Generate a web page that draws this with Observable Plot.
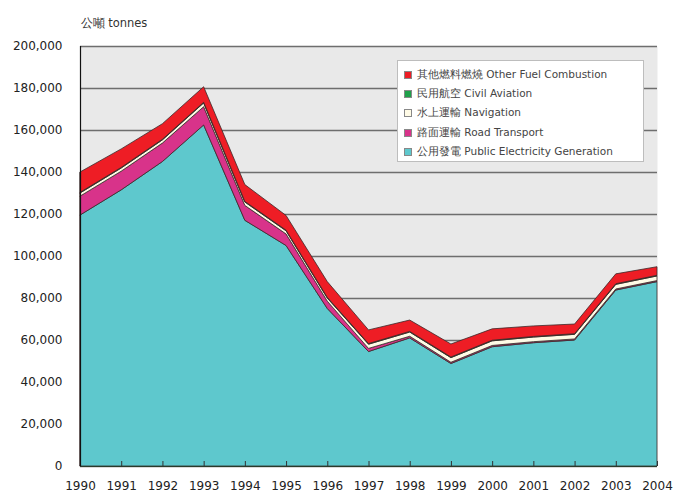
<!DOCTYPE html>
<html>
<head>
<meta charset="utf-8">
<script src="https://cdn.jsdelivr.net/npm/d3@7"></script>
<script src="https://cdn.jsdelivr.net/npm/@observablehq/plot@0.6"></script>
<style>
  body { margin: 0; background: #fff; font-family: "DejaVu Sans", sans-serif; }
  #wrap { position: relative; width: 673px; height: 494px; overflow: hidden; }
  #legend { position: absolute; left: 397px; top: 60px; width: 247px; height: 102px;
    background: #fff; border: 1px solid #bdbdbd; box-sizing: border-box; padding: 4px 0 0 6px;
    font-size: 10.5px; color: #444; }
  #legend .item { display: flex; align-items: center; height: 19.4px; white-space: nowrap; }
  #legend .sw { width: 8px; height: 8px; margin-right: 5px; border: 1px solid #888; box-sizing: border-box; }
</style>
</head>
<body>
<div id="wrap"><div id="chart"></div><div id="legend"></div></div>
<script>
const years = [1990, 1991, 1992, 1993, 1994, 1995, 1996, 1997, 1998, 1999, 2000, 2001, 2002, 2003, 2004];
const publicElectricity = [119500, 131500, 145000, 162400, 117000, 105000, 75000, 54500, 61000, 48800, 56800, 58700, 60000, 83800, 87800];
const roadTransport = [9000, 8900, 8800, 8700, 7100, 5500, 3500, 1500, 800, 600, 600, 500, 500, 500, 500];
const navigation = [1500, 1500, 1500, 1800, 1600, 1500, 1500, 2000, 2000, 2200, 2200, 2200, 2200, 2200, 2200];
const civilAviation = [300, 300, 300, 300, 300, 300, 300, 300, 300, 300, 300, 300, 300, 300, 300];
const otherFuel = [9700, 8800, 7400, 7400, 8000, 7000, 7500, 6500, 5400, 6200, 5400, 5000, 4600, 4700, 4100];

const categories = ["公用發電 Public Electricity Generation", "路面運輸 Road Transport", "水上運輸 Navigation", "民用航空 Civil Aviation", "其他燃料燃燒 Other Fuel Combustion"];
const colors = ["#5ec8cd", "#d8338a", "#fffbe6", "#1fa04a", "#ee1d25"];
const yTicks = [0, 20000, 40000, 60000, 80000, 100000, 120000, 140000, 160000, 180000, 200000];
const unitLabel = "公噸 tonnes";

const series = [publicElectricity, roadTransport, navigation, civilAviation, otherFuel];
const data = [];
series.forEach((vals, i) => vals.forEach((v, j) => data.push({year: years[j], category: categories[i], value: v})));

const chart = Plot.plot({
  width: 673,
  height: 494,
  marginLeft: 80,
  marginRight: 16,
  marginTop: 46,
  marginBottom: 28,
  style: {fontFamily: "DejaVu Sans, sans-serif", fontSize: "12px", color: "#222", background: "#fff"},
  x: {domain: [1990, 2004], ticks: years, tickFormat: d => String(d)},
  y: {domain: [0, 200000], ticks: yTicks},
  color: {domain: categories, range: colors},
  marks: [
    Plot.frame({fill: "#e9e9e9", stroke: null}),
    Plot.gridY(yTicks, {stroke: "#6e6e6e", strokeOpacity: 1, strokeWidth: 1.6}),
    Plot.areaY(data, {x: "year", y: "value", z: "category", fill: "category", order: categories,
      stroke: "#3a2a2a", strokeWidth: 0.8, strokeLinejoin: "round"}),
    Plot.axisY({ticks: yTicks, tickSize: 0, tickPadding: 18, tickFormat: d3.format(","), label: null}),
    Plot.axisX({ticks: years, tickSize: 0, tickPadding: 15, tickFormat: d => String(d), label: null}),
    Plot.axisX({ticks: years, tickSize: 5, dy: -5, text: null, label: null, stroke: "#333", strokeWidth: 1}),
    Plot.ruleX([1990], {stroke: "#111", strokeWidth: 1.2}),
    Plot.ruleY([0], {stroke: "#2a3a2a", strokeWidth: 1.2}),
    Plot.text([unitLabel], {frameAnchor: "top-left", dy: -28, dx: 0, textAnchor: "start", fontSize: 11.5, fill: "#333"})
  ]
});
document.getElementById("chart").appendChild(chart);

const legend = document.getElementById("legend");
const order = [4, 3, 2, 1, 0];
order.forEach(i => {
  const row = document.createElement("div");
  row.className = "item";
  const sw = document.createElement("span");
  sw.className = "sw";
  sw.style.background = colors[i];
  const t = document.createElement("span");
  t.textContent = categories[i];
  row.appendChild(sw); row.appendChild(t);
  legend.appendChild(row);
});
</script>
</body>
</html>
